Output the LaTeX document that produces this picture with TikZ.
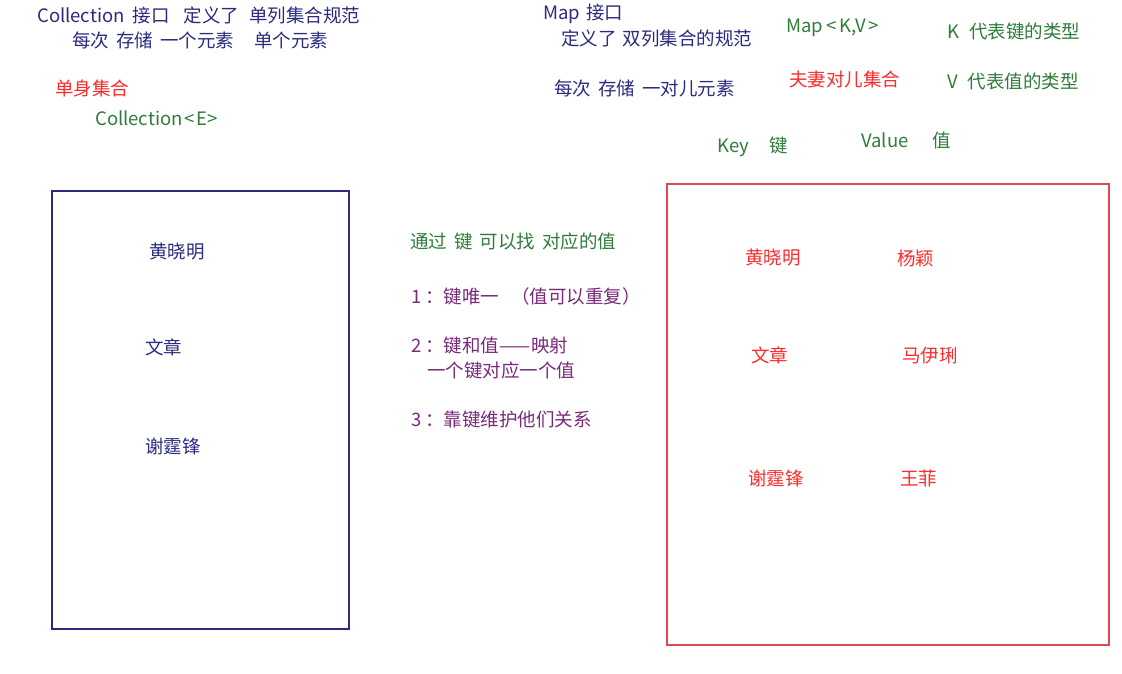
\documentclass[tikz,border=0pt]{standalone}
\usepackage{fontspec}
\setmainfont{Noto Sans CJK SC}
\definecolor{navy}{HTML}{2B2B80}
\definecolor{grn}{HTML}{2E7D3A}
\definecolor{rd}{HTML}{FF2A2A}
\definecolor{pur}{HTML}{7A2A7A}
\definecolor{boxred}{HTML}{E04858}
\newcommand{\gp}[1]{\hspace{#1pt}}
\tikzset{
  txt/.style={anchor=west, inner sep=0pt, font=\fontsize{18.5}{22}\selectfont},
  nv/.style={txt, text=navy},
  gn/.style={txt, text=grn},
  rdt/.style={txt, text=rd},
  pp/.style={txt, text=pur},
  setbox/.style={draw, line width=1.2pt}
}
\begin{document}
\begin{tikzpicture}[x=1pt,y=-1pt]
\useasboundingbox (0,0) rectangle (1122,673);
\fill[white] (0,0) rectangle (1122,673);
% top-left notes
\node[nv] (c1) at (37,15) {Collection\gp{8}接口\gp{14}定义了\gp{10}单列集合规范};
\node[nv] (c2) at (72,40) {每次\gp{7}存储\gp{7}一个元素\gp{20}单个元素};
\node[rdt] (c3) at (55,89) {单身集合};
\node[gn] (c4) at (95,118) {Collection\gp{2}<\gp{1}E\gp{1}>};
% top-right notes
\node[nv] (m1) at (543,14) {Map\gp{6}接口};
\node[nv] (m2) at (561,38) {定义了\gp{6}双列集合的规范};
\node[nv] (m3) at (554,88) {每次\gp{7}存储\gp{7}一对儿元素};
\node[gn] (m4) at (786,28) {Map\gp{3}<\gp{3}K,V\gp{3}>};
\node[rdt] (m5) at (789,79) {夫妻对儿集合};
\node[gn] (m6) at (947,31) {K\gp{10}代表键的类型};
\node[gn] (m7) at (947,81) {V\gp{10}代表值的类型};
\node[gn] (k1) at (717,147) {Key\gp{21}键};
\node[gn] (v1) at (861,140) {Value\gp{24}值};
% left box
\draw[setbox, navy] (52,191) rectangle (349,629);
\node[nv] (l1) at (149,252) {黄晓明};
\node[nv] (l2) at (145,347) {文章};
\node[nv] (l3) at (145,446) {谢霆锋};
% right box
\draw[setbox, boxred] (667,184) rectangle (1109,645);
\node[rdt] (r1) at (745,258) {黄晓明};
\node[rdt] (r2) at (897,258) {杨颖};
\node[rdt] (r3) at (751,355) {文章};
\node[rdt] (r4) at (902,356) {马伊琍};
\node[rdt] (r5) at (748,478) {谢霆锋};
\node[rdt] (r6) at (900,478) {王菲};
% middle notes
\node[gn] (t0) at (410,241) {通过\gp{7}键\gp{7}可以找\gp{7}对应的值};
\node[pp] (t1) at (411,296) {1\gp{4}：键唯一\gp{12}（值可以重复）};
\node[pp] (t2) at (411,345) {2\gp{4}：键和值——\gp{1}映射};
\node[pp] (t3) at (427,370) {一个键对应一个值};
\node[pp] (t4) at (411,419) {3\gp{4}：靠键维护他们关系};
\end{tikzpicture}
\end{document}
